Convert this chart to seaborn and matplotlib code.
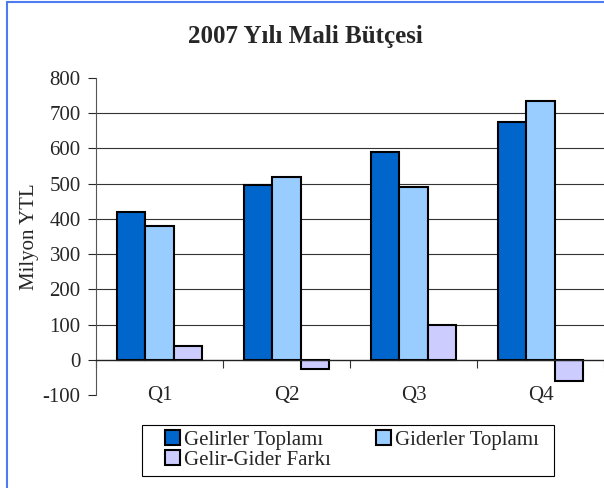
import pandas as pd
import numpy as np
import matplotlib
matplotlib.use('Agg')
import matplotlib.pyplot as plt
import matplotlib.patches as mpatches
import seaborn as sns

# Çeyrekler ve seriler
quarters = ['Q1', 'Q2', 'Q3', 'Q4']
series_names = ['Gelirler Toplamı', 'Giderler Toplamı', 'Gelir-Gider Farkı']
gelirler = [420, 495, 590, 675]
giderler = [380, 520, 490, 735]
fark = [40, -25, 100, -60]
colors = ['#0066CC', '#99CCFF', '#CCCCFF']

# long-form table for seaborn
df = pd.DataFrame({
    'Quarter': quarters * 3,
    'Seri': [series_names[0]] * 4 + [series_names[1]] * 4 + [series_names[2]] * 4,
    'Deger': gelirler + giderler + fark,
})

sns.set_style('white')
plt.rcParams['font.family'] = ['Liberation Serif', 'DejaVu Serif']
plt.rcParams['axes.unicode_minus'] = False

fig = plt.figure(figsize=(6.04, 4.88), dpi=100)
ax = fig.add_axes([96 / 604, 1 - 395 / 488, 1 - 96 / 604, (395 - 78) / 488])

sns.barplot(data=df, x='Quarter', y='Deger', hue='Seri', order=quarters,
            hue_order=series_names, palette=colors, width=0.67, gap=0,
            edgecolor='black', linewidth=1.5, saturation=1, ax=ax, legend=False)

ax.set_ylim(-100, 800)
ax.set_xlim(-0.5, 3.5)
ax.set_yticks(range(-100, 801, 100))
ax.tick_params(axis='y', labelsize=15, length=6, width=0.8, direction='out', left=True, pad=5)
ax.set_ylabel('Milyon YTL', fontsize=15, labelpad=3)
ax.set_xlabel('')

# gridlines 100..700
for v in range(100, 800, 100):
    ax.axhline(v, color='#333333', lw=0.8, zorder=0)

ax.spines['top'].set_visible(False)
ax.spines['right'].set_visible(False)
ax.spines['left'].set_color('#555555')
ax.spines['bottom'].set_position(('data', 0))
ax.spines['bottom'].set_color('#222222')
ax.spines['bottom'].set_linewidth(1.0)

ax.set_xticks(range(4))
ax.set_xticklabels(quarters)
ax.set_xticks([-0.5, 0.5, 1.5, 2.5, 3.5], minor=True)
ax.tick_params(axis='x', which='major', length=0, labelsize=15, pad=19, bottom=True)
ax.tick_params(axis='x', which='minor', length=6, width=0.8, color='#333333', direction='out', bottom=True)

fig.text(0.505, 1 - 37 / 488, '2007 Yılı Mali Bütçesi', ha='center', va='center',
         fontsize=18, fontweight='bold')

# row-major order like the reference: matplotlib fills columns first
order = [0, 2, 1]
handles = [mpatches.Patch(facecolor=colors[i], edgecolor='black', linewidth=1.5) for i in order]
labels = [series_names[i] for i in order]
leg = fig.legend(handles, labels, ncol=2, loc='center',
                 bbox_to_anchor=(352 / 604, 1 - 450 / 488), fontsize=15,
                 frameon=False,
                 handlelength=0.7, handleheight=0.7, handletextpad=0.2,
                 columnspacing=2.2, borderpad=0.3, labelspacing=0.0,
                 borderaxespad=0)

# legend box drawn separately (wider than the entries)
legbox = mpatches.Rectangle((142 / 604, 1 - 476 / 488), 412 / 604, 51 / 488,
                            transform=fig.transFigure, fill=False,
                            edgecolor='black', linewidth=0.8)
fig.patches.append(legbox)

# blue outer border of the chart area
border = mpatches.Rectangle((7 / 604, -0.1), 1.2, 1.1 - 2 / 488, transform=fig.transFigure,
                            fill=False, edgecolor='#4D7CF0', linewidth=1.5, clip_on=False)
fig.patches.append(border)

fig.savefig('out.png', dpi=100)
